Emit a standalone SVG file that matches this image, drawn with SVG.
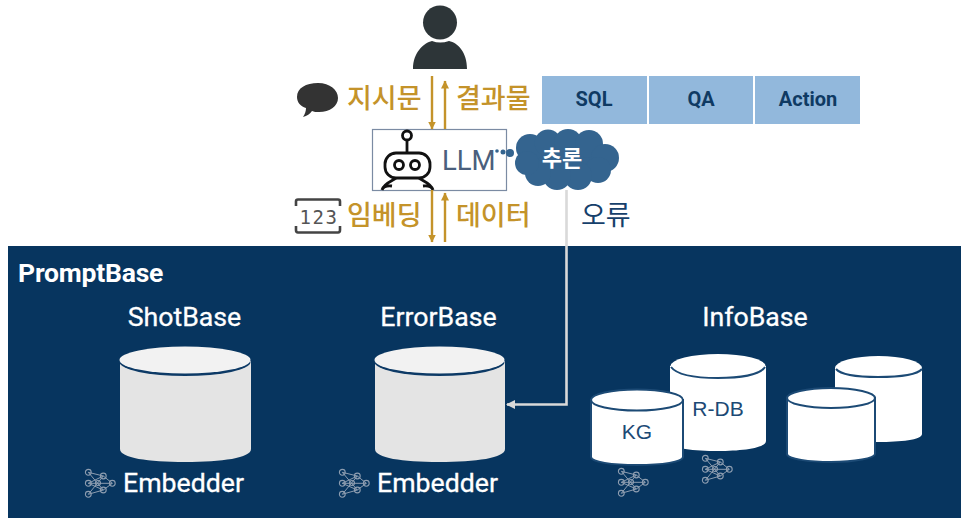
<svg xmlns="http://www.w3.org/2000/svg" width="969" height="523" viewBox="0 0 969 523">
<style>
text{font-family:"Roboto","Noto Sans CJK KR",sans-serif}
.gold{fill:#c4932a;font-size:27px;font-weight:500;font-family:"Noto Sans CJK KR",sans-serif}
.wh{fill:#fff;font-size:26.700px;font-weight:400;stroke:#fff;stroke-width:.3px}
.tab{fill:#0f3a63;font-size:20px;font-weight:700;text-anchor:middle}
.ar{stroke:#c4932a;stroke-width:2.400;fill:none;marker-end:url(#g)}
.side{fill:#e4e4e4}
.db{fill:#fff}.rim{fill:none;stroke:#1c4a75;stroke-width:2}
.edge{fill:#fff;stroke:#1c4a75;stroke-width:2}
.lab{fill:#1c4a75;font-size:21px;text-anchor:middle;font-family:"Liberation Sans",sans-serif}
.ic circle{fill:none;stroke:#8d9db0;stroke-width:1.100}.ic path{fill:none;stroke:#8d9db0;stroke-width:1}
.cl{fill:#34648f}
</style>
<defs>
<marker id="g" markerWidth="9" markerHeight="9" refX="7.500" refY="4" orient="auto" markerUnits="userSpaceOnUse"><path d="M0 0L8 4L0 8Z" fill="#c4932a"/></marker>
<marker id="w" markerWidth="10" markerHeight="10" refX="8" refY="4.500" orient="auto" markerUnits="userSpaceOnUse"><path d="M0 0L9 4.500L0 9Z" fill="#d9d9d9"/></marker>
<g id="emb" class="ic"><path d="M3.300 3.300L18.300 7M3.300 14.300L18.300 7M3.300 14.300L18.300 21M3.300 25.300L18.300 21M3.300 3.300L18.300 21M3.300 25.300L18.300 7M18.300 7L27.300 14.300M18.300 21L27.300 14.300M3.300 14.300H27.300"/><circle cx="3.300" cy="3.300" r="2.900"/><circle cx="3.300" cy="14.300" r="2.900"/><circle cx="3.300" cy="25.300" r="2.900"/><circle cx="18.300" cy="7" r="2.900"/><circle cx="18.300" cy="21" r="2.900"/><circle cx="27.300" cy="14.300" r="2.900"/><circle cx="13" cy="14" r="2.500"/></g>
</defs>
<rect width="969" height="523" fill="#fff"/>
<g id="promptbase"><rect x="8" y="246" width="953" height="272" fill="#07355f"/>
<text x="18" y="282" fill="#fff" font-size="26.500" font-weight="700" letter-spacing="-.2">PromptBase</text></g>
<g id="user"><circle cx="440" cy="22.500" r="17" fill="#2d3538"/><path d="M413 69C413 52 424 43 432 41Q440 44 449 41C458 43 467 52 467 69Z" fill="#2d3538"/></g>
<g id="instr"><path d="M297 97C297 88 306 83 318 83C330 83 338 90 338 98C338 106 330 112 319 112C316 112 314 112 312 111C310 114 307 116 303 117C305 114 306 111 306 108C300 106 297 102 297 97Z" fill="#333"/><text class="gold" x="347" y="108">지시문</text></g>
<g id="result"><text class="gold" x="456" y="108">결과물</text></g>
<g id="embed"><path d="M296 206V201.500Q296 199.500 298 199.500H338Q340 199.500 340 201.500V206M296 226V230Q296 232.500 298 232.500H338Q340 232.500 340 230V226" fill="none" stroke="#444" stroke-width="2.600"/><text x="319" y="224" text-anchor="middle" font-size="19" letter-spacing="1.500" fill="#555" style="font-family:'DejaVu Sans Mono',monospace">123</text><text class="gold" x="347" y="225">임베딩</text></g>
<g id="data"><text class="gold" x="456" y="225">데이터</text></g>
<g id="tabs"><rect x="542" y="76" width="105" height="48" fill="#92b8dc"/><rect x="649" y="76" width="104" height="48" fill="#92b8dc"/><rect x="755" y="76" width="105" height="48" fill="#92b8dc"/>
<text class="tab" x="594" y="106">SQL</text><text class="tab" x="701" y="106">QA</text><text class="tab" x="808" y="106">Action</text></g>
<g id="llm"><rect x="372.500" y="129.500" width="134" height="61" fill="#fff" stroke="#7b8ba3" stroke-width="1.200"/>
<g fill="none" stroke="#111" stroke-width="2.800"><circle cx="407" cy="135.500" r="4.500"/><path d="M407 140V152"/><rect x="385" y="153" width="45" height="25" rx="11"/><circle cx="399" cy="165" r="4.500"/><circle cx="415" cy="165" r="4.500"/><path d="M382 190C384 183 393 181 396 178M433 190C431 183 422 181 419 178M382 190Q384 185 392 186M433 190Q431 185 423 186"/></g>
<text x="442" y="170" font-size="27.500" fill="#4a5f7d">LLM</text></g>
<g id="cloud"><circle cx="497" cy="151" r="1.800" class="cl"/><circle cx="503" cy="152" r="2.500" class="cl"/><circle cx="510" cy="153" r="4" class="cl"/>
<g class="cl"><ellipse cx="566" cy="159" rx="46" ry="22"/><circle cx="530" cy="148" r="14"/><circle cx="548" cy="143" r="13.500"/><circle cx="568" cy="143" r="14"/><circle cx="589" cy="144" r="14"/><circle cx="605" cy="158" r="14"/><circle cx="598" cy="170" r="13"/><circle cx="578" cy="176" r="14"/><circle cx="557" cy="176" r="14"/><circle cx="538" cy="173" r="13"/><circle cx="527" cy="163" r="12"/></g>
<text x="562" y="166" text-anchor="middle" fill="#fff" font-size="22" font-weight="700" style="font-family:'Noto Sans CJK KR',sans-serif">추론</text></g>
<g id="connectors">
<path class="ar" d="M432 76V129"/><path class="ar" d="M445 129V81"/><path class="ar" d="M432 190V242"/><path class="ar" d="M445 242V193"/>
<path d="M566.500 190V404.500H507" fill="none" stroke="#d9d9d9" stroke-width="2.600" marker-end="url(#w)"/>
</g>
<g id="error"><text x="581" y="225" font-size="27" fill="#16406b" style="font-family:'Noto Sans CJK KR',sans-serif">오류</text></g>
<g id="shotbase"><text class="wh" x="184.500" y="326" text-anchor="middle">ShotBase</text>
<path class="side" d="M120 361V449C120 458 148 462 185 462C222 462 251 458 251 449V361Z"/>
<ellipse cx="185" cy="362" rx="65.500" ry="14" fill="#0d3a66"/><ellipse cx="185" cy="360" rx="65.500" ry="13.500" fill="#f2f2f2"/>
<use href="#emb" x="85" y="469"/><text class="wh" x="123" y="492">Embedder</text></g>
<g id="errorbase"><text class="wh" x="438.500" y="326" text-anchor="middle">ErrorBase</text>
<path class="side" d="M375 361V449C375 458 402 462 439 462C476 462 505 458 505 449V361Z"/>
<ellipse cx="439.500" cy="362" rx="65" ry="14" fill="#0d3a66"/><ellipse cx="439.500" cy="360" rx="65" ry="13.500" fill="#f2f2f2"/>
<use href="#emb" x="339" y="469"/><text class="wh" x="377" y="492">Embedder</text></g>
<g id="infobase"><text class="wh" x="755" y="326" text-anchor="middle">InfoBase</text>
<g id="rdb"><path class="db" d="M670 366V441C670 449 695 451 718 451C742 451 766 448 766 441V366Z"/><ellipse class="db" cx="718" cy="366" rx="47.500" ry="12"/><path class="rim" d="M671 367C677 375 697 378 718 378C739 378 760 375 765 367"/><text class="lab" x="718" y="416">R-DB</text></g>
<g id="kg"><path class="edge" d="M591 400V457C591 462 612 465 637 465C662 465 683 462 683 457V400Z" stroke-width="1"/><ellipse class="edge" cx="637" cy="400" rx="46" ry="10.500"/><text class="lab" x="637" y="439">KG</text></g>
<use href="#emb" x="618" y="468"/><use href="#emb" x="702" y="455"/>
<g id="db3"><path class="db" d="M835 368V436C835 440 860 442 878 442C900 442 922 440 922 434V368Z"/><ellipse class="db" cx="878.500" cy="368" rx="43.500" ry="12"/><path class="rim" d="M836 369C842 376 860 377 878 377C897 377 916 376 922 369"/></g>
<g id="db4"><path class="edge" d="M787 398V454C787 459 810 462 831 462C855 462 875 458 875 454V398Z" stroke-width="1"/><ellipse class="edge" cx="831" cy="398" rx="44" ry="10"/></g>
</g>
</svg>
